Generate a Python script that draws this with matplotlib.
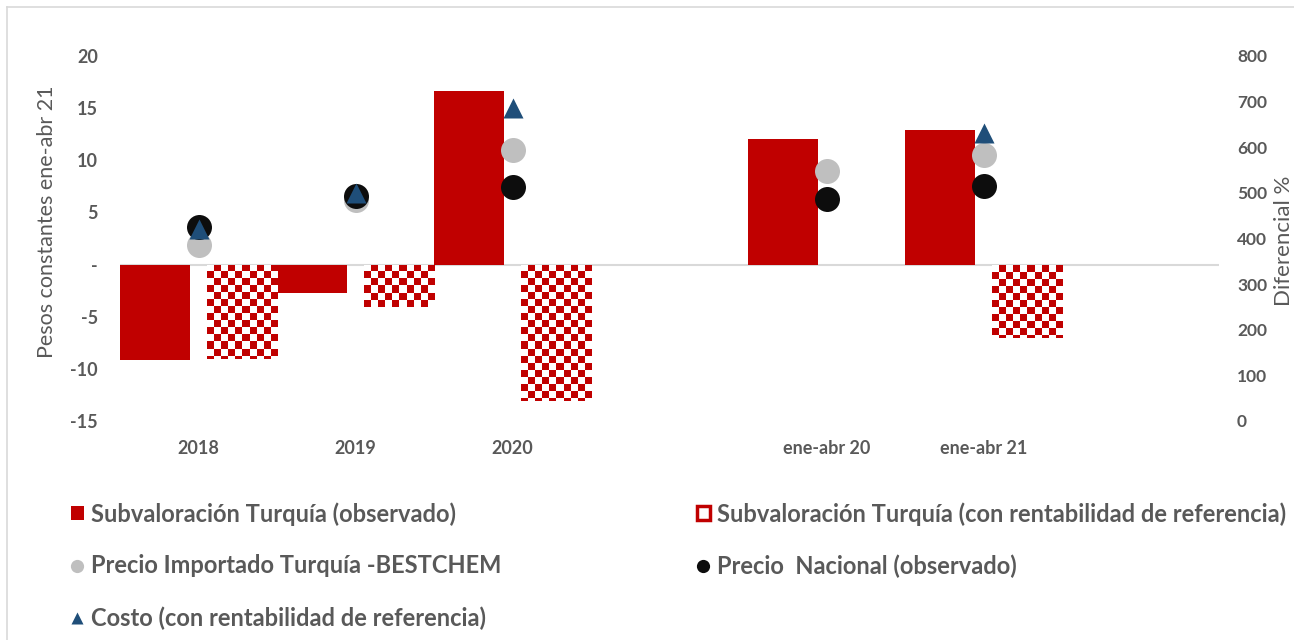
import numpy as np
import matplotlib
matplotlib.use("Agg")
import matplotlib.pyplot as plt
from matplotlib.colors import ListedColormap
from matplotlib.patches import Rectangle
from matplotlib.lines import Line2D

# ---------------- data ----------------
categories = ["2018", "2019", "2020", "", "ene-abr 20", "ene-abr 21", ""]
subv_observado = [-9.15, -2.7, 16.65, np.nan, 12.05, 12.9, np.nan]
subv_referencia = [-9.05, -4.04, -13.05, np.nan, np.nan, -7.0, np.nan]
precio_importado = [1.9, 6.2, 11.0, np.nan, 9.0, 10.5, np.nan]
precio_nacional = [3.6, 6.6, 7.4, np.nan, 6.3, 7.5, np.nan]
costo_referencia = [3.45, 6.9, 15.0, np.nan, np.nan, 12.6, np.nan]
left_ticks = [-15, -10, -5, 0, 5, 10, 15, 20]
left_ticklabels = ["-15", "-10", "-5", "-", "5", "10", "15", "20"]
right_ticks = [0, 100, 200, 300, 400, 500, 600, 700, 800]

labels = ["Subvaloración Turquía (observado)",
          "Subvaloración Turquía (con rentabilidad de referencia)",
          "Precio Importado Turquía -BESTCHEM",
          "Precio  Nacional (observado)",
          "Costo (con rentabilidad de referencia)"]

RED = "#C00000"
GRAY = "#BFBFBF"
BLACK = "#0D0D0D"
BLUE = "#1F4E79"
TXT = "#595959"
FONT = ["Lato", "DejaVu Sans"]

plt.rcParams["font.family"] = FONT

W, H = 1294, 640
fig = plt.figure(figsize=(W / 100, H / 100), dpi=100)
ax_l, ax_r, ax_b, ax_t = 120, 1219, 421, 56
ax = fig.add_axes([ax_l / W, 1 - ax_b / H, (ax_r - ax_l) / W, (ax_b - ax_t) / H])

n = len(categories)
x = np.arange(n)
ax.set_xlim(-0.5, n - 0.5)
ax.set_ylim(-15, 20)

off, bw = 0.277, 0.446
ax.bar(x - off, subv_observado, width=bw, color=RED, zorder=2)
bars_ref = ax.bar(x + off, subv_referencia, width=bw, color="white", zorder=2)

# checkerboard fill clipped to each bar
px_x = (ax_r - ax_l) / n
px_y = (ax_b - ax_t) / 35.0
sq = 7.0
dx, dy = sq / px_x, sq / px_y
cmap = ListedColormap(["white", RED])
for b in bars_ref:
    hgt = b.get_height()
    if not np.isfinite(hgt) or hgt == 0:
        continue
    x0 = b.get_x()
    w = b.get_width()
    nx = int(np.ceil(w / dx))
    ny = int(np.ceil(abs(hgt) / dy))
    arr = (np.add.outer(np.arange(ny), np.arange(nx)) % 2).astype(float)
    im = ax.imshow(arr, cmap=cmap, vmin=0, vmax=1, interpolation="nearest",
                   extent=(x0, x0 + nx * dx, -ny * dy, 0), origin="upper",
                   aspect="auto", zorder=3)
    im.set_clip_path(b)
ax.set_xlim(-0.5, n - 0.5)
ax.set_ylim(-15, 20)

ax.plot(x, precio_importado, "o", color=GRAY, ms=18, mec="none", zorder=4)
ax.plot(x, precio_nacional, "o", color=BLACK, ms=18, mec="none", zorder=5)
ax.plot(x, costo_referencia, "^", color=BLUE, ms=15, mec="none", zorder=6)

ax.axhline(0, color="#D9D9D9", lw=1.5, zorder=1)

for s in ax.spines.values():
    s.set_visible(False)
ax.set_yticks(left_ticks)
ax.set_yticklabels(left_ticklabels)
ax.set_xticks(x)
ax.set_xticklabels(categories)
ax.tick_params(axis="y", length=0, pad=16, labelsize=13, labelcolor=TXT)
ax.tick_params(axis="x", length=0, pad=14, labelsize=13, labelcolor=TXT)
for t in ax.get_yticklabels() + ax.get_xticklabels():
    t.set_fontweight("bold")

ax2 = ax.twinx()
ax2.set_ylim(0, 800)
ax2.set_yticks(right_ticks)
for s in ax2.spines.values():
    s.set_visible(False)
ax2.tick_params(axis="y", length=0, pad=13, labelsize=12.5, labelcolor=TXT)
for t in ax2.get_yticklabels():
    t.set_fontweight("bold")

fig.text(47 / W, 1 - 222 / H, "Pesos constantes ene-abr 21", rotation=90,
         ha="center", va="center", fontsize=15.5, color=TXT)
fig.text(1284 / W, 1 - 241 / H, "Diferencial %", rotation=90,
         ha="center", va="center", fontsize=16, color=TXT)

# legend
h_obs = Rectangle((0, 0), 1, 1, facecolor=RED, edgecolor="none")
h_ref = Rectangle((0, 0), 1, 1, facecolor="white", edgecolor=RED, lw=2.5)
h_imp = Line2D([], [], marker="o", ls="none", color=GRAY, ms=9.5, mec="none")
h_nac = Line2D([], [], marker="o", ls="none", color=BLACK, ms=9.5, mec="none")
h_cos = Line2D([], [], marker="^", ls="none", color=BLUE, ms=9, mec="none")

common = dict(frameon=False, handlelength=0.55, handleheight=0.55, handletextpad=0.3,
              labelspacing=1.22, borderaxespad=0, borderpad=0,
              prop={"size": 17, "weight": "bold", "family": FONT})
leg1 = fig.legend([h_obs, h_imp, h_cos], [labels[0], labels[2], labels[4]],
                  loc="upper left", bbox_to_anchor=(71 / W, 1 - 502 / H), **common)
leg2 = fig.legend([h_ref, h_nac], [labels[1], labels[3]],
                  loc="upper left", bbox_to_anchor=(697 / W, 1 - 502 / H), **common)
for lg in (leg1, leg2):
    for t in lg.get_texts():
        t.set_color(TXT)

# chart border (top and left visible)
fig.add_artist(Line2D([7 / W, 7 / W], [0, 1 - 7 / H], color="#D9D9D9", lw=1.2))
fig.add_artist(Line2D([7 / W, 1], [1 - 7 / H, 1 - 7 / H], color="#D9D9D9", lw=1.2))

fig.savefig("out.png", dpi=100)
